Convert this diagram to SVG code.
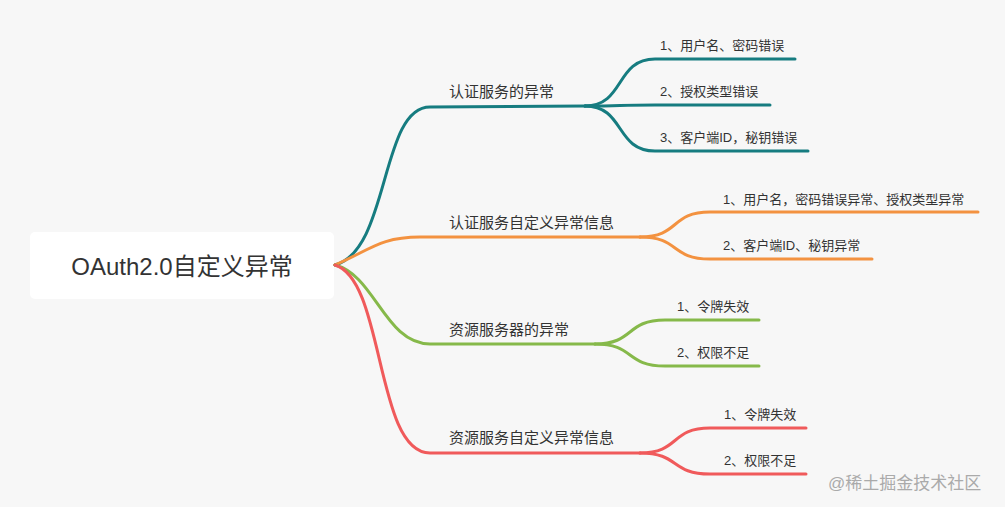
<svg xmlns="http://www.w3.org/2000/svg" width="1005" height="507" viewBox="0 0 1005 507">
<style>
text{font-family:"Liberation Sans","Noto Sans CJK SC",sans-serif;fill:#333}
.b{font-size:15px}.l{font-size:13px}
path{fill:none;stroke-width:3;stroke-linecap:round}
.t{stroke:#167C80}.o{stroke:#F39240}.g{stroke:#86B94A}.r{stroke:#F05A5B}
</style>
<rect width="1005" height="507" fill="#f7f7f7"/>
<g id="root"><rect x="30" y="232" width="304" height="67" rx="5" fill="#fff"/><text x="182" y="275" font-size="24" text-anchor="middle">OAuth2.0自定义异常</text></g>
<g id="connectors">
<path class="t" d="M335,265 C390,250 380,107 430,107 L585,106"/>
<path class="t" d="M585,106 C625,106 615,59 655,59 L795,59"/>
<path class="t" d="M585,106 C625,106 615,105 655,105 L770,105"/>
<path class="t" d="M585,106 C625,106 615,151 655,151 L808,151"/>
<path class="o" d="M335,265 C370,250 380,237 420,237 L640,237"/>
<path class="o" d="M640,237 C680,237 670,212 710,212 L978,212"/>
<path class="o" d="M640,237 C680,237 670,259 710,259 L872,259"/>
<path class="g" d="M335,265 C375,275 385,344 430,344 L595,344"/>
<path class="g" d="M595,344 C635,344 625,320 665,320 L759,320"/>
<path class="g" d="M595,344 C635,344 625,366 665,366 L759,366"/>
<path class="r" d="M335,265 C385,280 375,453 430,453 L640,453"/>
<path class="r" d="M640,453 C680,453 670,428 710,428 L806,428"/>
<path class="r" d="M640,453 C680,453 670,474 710,474 L806,474"/>
</g>
<g id="n1"><text class="b" x="449" y="97">认证服务的异常</text>
<text class="l" x="660" y="50">1、用户名、密码错误</text><text class="l" x="660" y="96">2、授权类型错误</text><text class="l" x="660" y="142">3、客户端ID，秘钥错误</text></g>
<g id="n2"><text class="b" x="449" y="228">认证服务自定义异常信息</text>
<text class="l" x="723" y="204">1、用户名，密码错误异常、授权类型异常</text><text class="l" x="723" y="250">2、客户端ID、秘钥异常</text></g>
<g id="n3"><text class="b" x="449" y="335">资源服务器的异常</text>
<text class="l" x="677" y="311">1、令牌失效</text><text class="l" x="677" y="357">2、权限不足</text></g>
<g id="n4"><text class="b" x="449" y="443">资源服务自定义异常信息</text>
<text class="l" x="724" y="419">1、令牌失效</text><text class="l" x="724" y="465">2、权限不足</text></g>
<text x="828" y="489" font-size="17" style="fill:#aaa">@稀土掘金技术社区</text>
</svg>
